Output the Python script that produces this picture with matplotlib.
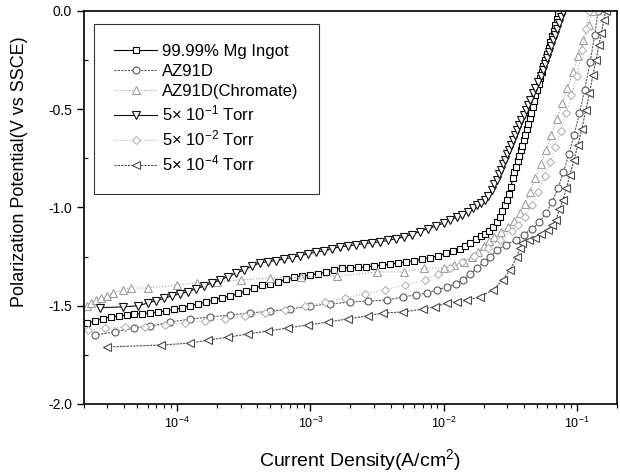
import numpy as np
import matplotlib
matplotlib.use('Agg')
import matplotlib.pyplot as plt
from matplotlib.ticker import LogLocator, MultipleLocator, NullFormatter

plt.rcParams['font.family'] = ['Liberation Sans', 'DejaVu Sans']
plt.rcParams['mathtext.default'] = 'regular'
plt.rcParams['axes.unicode_minus'] = False

# log10 of current density (A/cm2) and potential (V vs SSCE)
mg_logi = [-4.68, -4.62, -4.56, -4.50, -4.44, -4.38, -4.32, -4.26, -4.20, -4.14,
           -4.08, -4.02, -3.96, -3.90, -3.84, -3.78, -3.72, -3.66, -3.60, -3.54,
           -3.48, -3.42, -3.36, -3.30, -3.24, -3.18, -3.12, -3.06, -3.00, -2.94,
           -2.88, -2.82, -2.76, -2.70, -2.64, -2.58, -2.52, -2.46, -2.40, -2.34,
           -2.28, -2.22, -2.16, -2.10, -2.04, -1.98, -1.93, -1.88, -1.84, -1.80,
           -1.76, -1.72, -1.69, -1.66, -1.63, -1.60, -1.58, -1.56, -1.54, -1.525,
           -1.51, -1.495, -1.48, -1.47, -1.455, -1.445, -1.435, -1.42, -1.41, -1.40,
           -1.39, -1.375, -1.365, -1.355, -1.345, -1.33, -1.32, -1.31, -1.30, -1.285,
           -1.275, -1.26, -1.25, -1.235, -1.225, -1.21, -1.20, -1.185, -1.17, -1.16,
           -1.15, -1.14]
mg_v = [-1.59, -1.578, -1.566, -1.557, -1.552, -1.547, -1.543, -1.540, -1.536, -1.532,
        -1.525, -1.518, -1.51, -1.50, -1.49, -1.48, -1.47, -1.46, -1.45, -1.437,
        -1.425, -1.41, -1.397, -1.388, -1.378, -1.366, -1.354, -1.349, -1.344, -1.337,
        -1.329, -1.318, -1.308, -1.306, -1.305, -1.303, -1.298, -1.293, -1.288, -1.283,
        -1.277, -1.27, -1.263, -1.255, -1.245, -1.233, -1.222, -1.21, -1.197, -1.18,
        -1.16, -1.145, -1.133, -1.12, -1.10, -1.075, -1.05, -1.02, -0.99, -0.962,
        -0.93, -0.895, -0.85, -0.82, -0.795, -0.765, -0.74, -0.71, -0.685, -0.655,
        -0.63, -0.60, -0.575, -0.545, -0.52, -0.49, -0.46, -0.43, -0.40, -0.37,
        -0.34, -0.31, -0.28, -0.25, -0.22, -0.19, -0.16, -0.13, -0.10, -0.07,
        -0.04, -0.01]

az_logi = [-4.62, -4.47, -4.32, -4.2, -4.05, -3.9, -3.75, -3.6, -3.45, -3.3,
           -3.15, -3.0, -2.85, -2.7, -2.57, -2.425, -2.305, -2.21, -2.125, -2.05,
           -1.975, -1.91, -1.855, -1.80, -1.75, -1.70, -1.65, -1.60, -1.53, -1.46,
           -1.40, -1.34, -1.28, -1.23, -1.185, -1.14, -1.10, -1.06, -1.02, -0.98,
           -0.94, -0.90, -0.865, -0.84]
az_v = [-1.65, -1.633, -1.613, -1.603, -1.583, -1.568, -1.557, -1.547, -1.537, -1.527,
        -1.517, -1.501, -1.491, -1.481, -1.476, -1.471, -1.455, -1.445, -1.435, -1.42,
        -1.405, -1.388, -1.369, -1.34, -1.308, -1.28, -1.252, -1.216, -1.19, -1.165,
        -1.14, -1.11, -1.075, -1.03, -0.97, -0.90, -0.82, -0.73, -0.63, -0.52,
        -0.40, -0.26, -0.12, 0.0]

cr_logi = [-4.68, -4.65, -4.61, -4.57, -4.53, -4.48, -4.41, -4.35, -4.22, -4.0,
           -3.85, -3.7, -3.52, -3.3, -3.07, -2.8, -2.5, -2.3, -2.15, -2.0,
           -1.92, -1.85, -1.79, -1.74, -1.70, -1.66, -1.62, -1.57, -1.52, -1.47,
           -1.43, -1.39, -1.35, -1.31, -1.27, -1.23, -1.19, -1.15, -1.11, -1.07,
           -1.03, -0.99, -0.95, -0.91, -0.88]
cr_v = [-1.50, -1.486, -1.471, -1.461, -1.45, -1.435, -1.42, -1.41, -1.41, -1.394,
        -1.384, -1.379, -1.369, -1.359, -1.354, -1.349, -1.328, -1.328, -1.308, -1.308,
        -1.293, -1.278, -1.252, -1.227, -1.196, -1.17, -1.15, -1.125, -1.10, -1.07,
        -1.03, -0.98, -0.92, -0.85, -0.78, -0.71, -0.63, -0.55, -0.47, -0.39,
        -0.31, -0.23, -0.15, -0.07, 0.0]

t1_logi = [-4.58, -4.405, -4.29, -4.22, -4.16, -4.10, -4.04, -3.98, -3.92, -3.86,
           -3.80, -3.74, -3.68, -3.62, -3.56, -3.50, -3.44, -3.38, -3.32, -3.26,
           -3.20, -3.14, -3.08, -3.02, -2.96, -2.90, -2.84, -2.78, -2.72, -2.66,
           -2.60, -2.54, -2.48, -2.42, -2.36, -2.30, -2.24, -2.18, -2.12, -2.06,
           -2.00, -1.95, -1.90, -1.86, -1.82, -1.78, -1.75, -1.72, -1.69, -1.665,
           -1.64, -1.62, -1.60, -1.585, -1.57, -1.555, -1.54, -1.525, -1.51, -1.495,
           -1.48, -1.465, -1.45, -1.435, -1.42, -1.40, -1.385, -1.37, -1.35, -1.33,
           -1.31, -1.29, -1.27, -1.255, -1.24, -1.225, -1.21, -1.195, -1.18, -1.165,
           -1.15, -1.135, -1.12, -1.105]
t1_v = [-1.51, -1.506, -1.50, -1.486, -1.475, -1.463, -1.45, -1.44, -1.428, -1.415,
        -1.40, -1.385, -1.37, -1.352, -1.336, -1.318, -1.30, -1.282, -1.276, -1.27,
        -1.263, -1.255, -1.246, -1.236, -1.228, -1.22, -1.212, -1.20, -1.196, -1.19,
        -1.185, -1.18, -1.175, -1.168, -1.16, -1.15, -1.138, -1.123, -1.108, -1.095,
        -1.08, -1.064, -1.05, -1.036, -1.022, -1.005, -0.99, -0.975, -0.962, -0.94,
        -0.91, -0.88, -0.86, -0.83, -0.81, -0.78, -0.76, -0.73, -0.71, -0.68,
        -0.655, -0.63, -0.605, -0.58, -0.555, -0.53, -0.505, -0.48, -0.453, -0.42,
        -0.39, -0.36, -0.33, -0.30, -0.27, -0.24, -0.21, -0.18, -0.15, -0.12,
        -0.09, -0.06, -0.03, -0.005]

t2_logi = [-4.67, -4.54, -4.39, -4.24, -4.09, -3.94, -3.79, -3.64, -3.49, -3.34,
           -3.19, -3.04, -2.89, -2.74, -2.59, -2.44, -2.29, -2.14, -2.04, -1.95,
           -1.86, -1.77, -1.67, -1.58, -1.49, -1.44, -1.39, -1.34, -1.29, -1.24,
           -1.20, -1.16, -1.12, -1.08, -1.04, -1.00, -0.96, -0.93, -0.91]
t2_v = [-1.624, -1.613, -1.608, -1.608, -1.598, -1.588, -1.578, -1.567, -1.552, -1.537,
        -1.522, -1.501, -1.481, -1.461, -1.44, -1.42, -1.394, -1.369, -1.338, -1.308,
        -1.277, -1.247, -1.206, -1.165, -1.12, -1.09, -1.05, -0.99, -0.92, -0.84,
        -0.77, -0.69, -0.61, -0.52, -0.43, -0.33, -0.20, -0.09, 0.0]

t4_logi = [-4.53, -4.12, -3.9, -3.77, -3.62, -3.47, -3.32, -3.17, -3.02, -2.87,
           -2.72, -2.57, -2.455, -2.305, -2.155, -2.065, -1.975, -1.90, -1.825, -1.727,
           -1.63, -1.555, -1.502, -1.45, -1.427, -1.41, -1.36, -1.314, -1.265, -1.217,
           -1.185, -1.157, -1.13, -1.104, -1.078, -1.052, -1.022, -0.992, -0.962, -0.932,
           -0.905, -0.879, -0.855, -0.834, -0.815, -0.797, -0.782]
t4_v = [-1.71, -1.70, -1.69, -1.675, -1.66, -1.644, -1.629, -1.613, -1.598, -1.583,
        -1.567, -1.552, -1.537, -1.532, -1.517, -1.506, -1.486, -1.481, -1.471, -1.455,
        -1.42, -1.369, -1.318, -1.252, -1.206, -1.18, -1.165, -1.155, -1.135, -1.115,
        -1.09, -1.064, -1.01, -0.962, -0.90, -0.835, -0.76, -0.682, -0.60, -0.504,
        -0.42, -0.326, -0.25, -0.173, -0.11, -0.046, 0.0]

labels = ['99.99% Mg Ingot', 'AZ91D', 'AZ91D(Chromate)',
          '5× 10$^{-1}$ Torr', '5× 10$^{-2}$ Torr', '5× 10$^{-4}$ Torr']
series = [(mg_logi, mg_v), (az_logi, az_v), (cr_logi, cr_v),
          (t1_logi, t1_v), (t2_logi, t2_v), (t4_logi, t4_v)]
markers = ['s', 'o', '^', 'v', 'D', '<']
colors = ['#000000', '#5a5a5a', '#a0a0a0', '#111111', '#b4b4b4', '#4a4a4a']
styles = ['-', (0, (2, 1)), ':', '-', ':', (0, (2, 1))]
msizes = [5, 5, 5.5, 6, 4, 5.5]

fig = plt.figure(figsize=(6.2, 4.76), dpi=100)
ax = fig.add_axes([0.1355, 0.1513, 0.8595, 0.8257])

for (lx, v), lab, m, c, ls, ms in zip(series, labels, markers, colors, styles, msizes):
    ax.plot(10 ** np.array(lx), v, linestyle=ls, color=c, lw=0.8, marker=m,
            ms=ms, mfc='white', mec=c, mew=0.8, label=lab)

ax.set_xscale('log')
ax.set_xlim(2e-5, 0.2)
ax.set_ylim(-2.0, 0.0)
ax.yaxis.set_major_locator(MultipleLocator(0.5))
ax.yaxis.set_minor_locator(MultipleLocator(0.25))
ax.yaxis.set_major_formatter(plt.FormatStrFormatter('%.1f'))
ax.xaxis.set_major_locator(LogLocator(base=10, numticks=10))
ax.xaxis.set_minor_locator(LogLocator(base=10, subs=np.arange(2, 10), numticks=10))
ax.xaxis.set_minor_formatter(NullFormatter())
ax.tick_params(axis='x', which='major', direction='out', length=5, width=1, labelsize=9)
ax.tick_params(axis='x', which='minor', direction='out', length=3, width=0.8)
ax.tick_params(axis='y', which='major', direction='out', length=5, width=1, labelsize=10)
ax.tick_params(axis='y', which='minor', direction='in', length=3, width=0.8)
for s in ax.spines.values():
    s.set_linewidth(1.2)

ax.set_xlabel('Current Density(A/cm$^2$)', fontsize=14)
ax.xaxis.set_label_coords(0.518, -0.11)
ax.set_ylabel('Polarization Potential(V vs SSCE)', fontsize=13)
ax.yaxis.set_label_coords(-0.105, 0.59)

leg = ax.legend(loc='upper left', bbox_to_anchor=(0.019, 0.967), fontsize=12,
                frameon=True, fancybox=False, edgecolor='black', handlelength=2.6,
                handletextpad=0.3, labelspacing=0.3, borderpad=1.2, borderaxespad=0)
leg.get_frame().set_linewidth(0.8)

fig.savefig('out.png', dpi=100)
